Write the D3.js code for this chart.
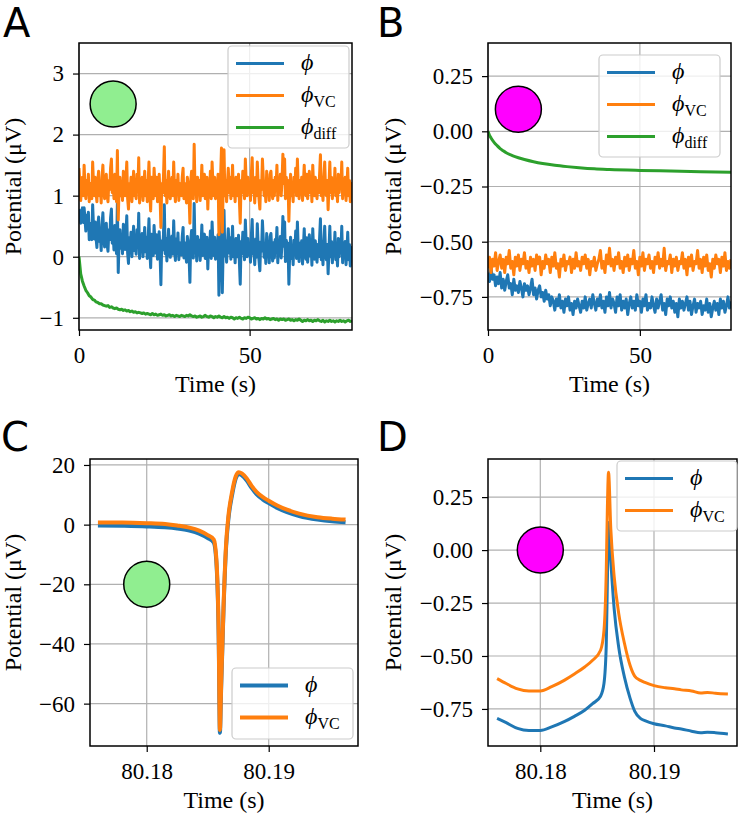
<!DOCTYPE html>
<html>
<head>
<meta charset="utf-8">
<script src="https://cdn.jsdelivr.net/npm/d3@7"></script>
<style>
    body { margin: 0; background: #fff; }
</style>
</head>
<body>
<div id="chart"></div>
<script>
// sample times of the long recordings, in seconds
var timeFine = d3.range(0, 80.001, 0.25);   // A: phi and phi_VC
var timeAB = d3.range(0, 80.001, 0.5);      // A: phi_diff, B: phi and phi_VC

// Panel A: phi, phi_VC, phi_diff (uV)
var phiA = [
    0.78,0.70,0.55,0.68,0.80,0.56,0.80,0.62,0.42,0.68,0.47,0.73,0.28,0.55,0.44,0.28,0.85,0.50,0.29,0.57,
    0.31,0.15,0.50,0.65,0.25,0.38,0.10,0.52,0.72,0.32,0.16,0.40,0.55,0.20,0.09,0.44,0.28,0.63,0.78,0.22,
    0.36,0.11,0.51,0.26,0.05,0.89,-0.26,0.29,0.44,0.14,0.33,0.05,0.53,0.23,0.12,0.37,0.67,0.06,-0.11,0.31,
    0.15,0.40,0.0,0.25,0.50,0.10,0.29,0.04,0.44,0.19,0.71,-0.03,0.29,0.13,0.38,0.0,0.23,0.48,0.08,0.32,
    -0.03,0.27,0.62,0.12,-0.18,0.37,0.17,0.02,0.51,0.26,0.06,0.36,-0.04,0.21,0.41,0.06,-0.46,0.26,0.11,0.36,
    0.85,0.05,0.30,-0.07,0.20,0.45,0.10,-0.01,0.24,0.34,0.04,0.59,0.14,-0.06,0.29,0.09,0.39,-0.05,0.23,0.13,
    0.03,0.33,0.48,-0.02,0.23,0.08,-0.09,0.33,0.18,0.03,-0.42,0.28,0.43,0.08,-0.02,0.87,0.13,0.23,-0.07,0.33,
    0.07,0.27,-0.06,0.17,0.52,0.02,0.22,0.37,-0.03,0.12,0.32,-0.20,0.22,0.07,0.42,-0.03,0.57,0.22,0.02,0.32,
    -0.04,0.21,0.11,0.36,-0.63,0.06,0.31,0.79,-0.59,0.16,0.76,0.01,0.26,-0.09,0.21,0.46,0.06,0.31,-0.04,0.16,
    0.50,0.0,0.20,-0.10,0.30,0.10,0.0,0.35,-0.08,-0.45,0.25,0.05,0.40,0.15,-0.05,0.60,0.20,0.0,0.30,0.05,
    0.19,-0.09,0.34,0.61,0.04,0.14,-0.13,0.29,-0.01,0.54,0.19,-0.06,-0.23,0.24,0.09,0.59,0.29,-0.01,0.14,-0.11,
    0.38,0.03,0.18,-0.10,0.33,0.38,0.08,-0.07,0.23,-0.02,0.28,0.13,0.48,-0.10,0.18,0.03,0.33,-0.02,0.23,0.66,
    0.17,0.57,-0.08,0.27,0.02,0.22,-0.45,0.07,0.32,-0.03,0.17,-0.13,0.27,0.07,0.42,-0.03,0.57,0.12,-0.08,0.22,
    0.01,0.26,-0.12,0.16,0.46,0.06,-0.04,0.31,-0.09,0.16,0.36,0.01,0.21,-0.14,0.46,0.11,-0.04,0.26,0.06,-0.09,
    0.20,0.0,0.30,0.62,-0.05,0.15,-0.13,0.25,0.50,0.05,-0.05,0.20,-0.28,0.10,0.50,0.0,0.25,-0.10,0.15,0.05,
    0.40,-0.05,0.15,-0.15,0.30,0.0,0.20,0.10,0.50,-0.10,0.15,0.0,0.25,-0.13,0.10,0.40,-0.05,0.20,-0.15,0.15,
    0.05
];
var phiVCA = [
    1.45,1.2,0.92,1.1,1.3,1.0,1.5,1.15,0.95,1.25,1.05,1.35,0.9,1.2,1.1,0.95,1.55,1.2,1.0,1.3,
    1.05,0.9,1.25,1.4,1.0,1.15,0.88,1.3,1.5,1.1,0.95,1.2,1.35,1.0,0.9,1.25,1.1,1.45,1.6,1.05,
    1.2,0.95,1.35,1.1,0.9,1.74,0.6,1.15,1.3,1.0,1.2,0.92,1.4,1.1,1.0,1.25,1.55,0.95,0.78,1.2,
    1.05,1.3,0.9,1.15,1.4,1.0,1.2,0.95,1.35,1.1,1.62,0.88,1.2,1.05,1.3,0.92,1.15,1.4,1.0,1.25,
    0.9,1.2,1.55,1.05,0.75,1.3,1.1,0.95,1.45,1.2,1.0,1.3,0.9,1.15,1.35,1.0,0.48,1.2,1.05,1.3,
    1.8,1.0,1.25,0.88,1.15,1.4,1.05,0.95,1.2,1.3,1.0,1.55,1.1,0.9,1.25,1.05,1.35,0.92,1.2,1.1,
    1.0,1.3,1.45,0.95,1.2,1.05,0.88,1.3,1.15,1.0,0.55,1.25,1.4,1.05,0.95,1.84,1.1,1.2,0.9,1.3,
    1.05,1.25,0.92,1.15,1.5,1.0,1.2,1.35,0.95,1.1,1.3,0.78,1.2,1.05,1.4,0.95,1.55,1.2,1.0,1.3,
    0.95,1.2,1.1,1.35,0.36,1.05,1.3,1.78,0.4,1.15,1.75,1.0,1.25,0.9,1.2,1.45,1.05,1.3,0.95,1.15,
    1.5,1.0,1.2,0.9,1.3,1.1,1.0,1.35,0.92,0.55,1.25,1.05,1.4,1.15,0.95,1.6,1.2,1.0,1.3,1.05,
    1.2,0.92,1.35,1.62,1.05,1.15,0.88,1.3,1.0,1.55,1.2,0.95,0.78,1.25,1.1,1.6,1.3,1.0,1.15,0.9,
    1.4,1.05,1.2,0.92,1.35,1.4,1.1,0.95,1.25,1.0,1.3,1.15,1.5,0.92,1.2,1.05,1.35,1.0,1.25,1.68,
    1.2,1.6,0.95,1.3,1.05,1.25,0.58,1.1,1.35,1.0,1.2,0.9,1.3,1.1,1.45,1.0,1.6,1.15,0.95,1.25,
    1.05,1.3,0.92,1.2,1.5,1.1,1.0,1.35,0.95,1.2,1.4,1.05,1.25,0.9,1.5,1.15,1.0,1.3,1.1,0.95,
    1.25,1.05,1.35,1.67,1.0,1.2,0.92,1.3,1.55,1.1,1.0,1.25,0.77,1.15,1.55,1.05,1.3,0.95,1.2,1.1,
    1.45,1.0,1.2,0.9,1.35,1.05,1.25,1.15,1.55,0.95,1.2,1.05,1.3,0.92,1.15,1.45,1.0,1.25,0.9,1.2,
    1.1
];
var phiDiffA = [
    0,-0.28,-0.40,-0.48,-0.55,-0.59,-0.64,-0.66,-0.70,-0.71,
    -0.74,-0.75,-0.77,-0.77,-0.79,-0.80,-0.81,-0.80,-0.83,-0.82,
    -0.84,-0.85,-0.84,-0.86,-0.87,-0.86,-0.88,-0.87,-0.89,-0.88,
    -0.90,-0.89,-0.91,-0.90,-0.92,-0.91,-0.92,-0.93,-0.92,-0.94,
    -0.93,-0.94,-0.95,-0.93,-0.95,-0.94,-0.96,-0.95,-0.94,-0.96,
    -0.95,-0.97,-0.96,-0.95,-0.97,-0.96,-0.98,-0.96,-0.97,-0.98,
    -0.96,-0.97,-0.98,-0.96,-0.97,-0.95,-0.97,-0.98,-0.97,-0.99,
    -0.98,-0.97,-0.99,-0.98,-0.96,-0.98,-0.99,-0.97,-0.98,-1.00,
    -0.98,-0.99,-0.97,-0.99,-1.00,-0.98,-1.00,-0.99,-1.01,-0.99,
    -1.00,-1.02,-1.00,-1.01,-0.99,-1.01,-1.02,-1.00,-1.01,-0.99,
    -1.00,-1.02,-1.01,-1.00,-1.02,-1.01,-1.03,-1.01,-1.02,-1.00,
    -1.02,-1.01,-1.03,-1.02,-1.01,-1.03,-1.02,-1.04,-1.02,-1.03,
    -1.02,-1.04,-1.03,-1.02,-1.04,-1.03,-1.05,-1.03,-1.04,-1.02,
    -1.04,-1.06,-1.04,-1.05,-1.03,-1.05,-1.04,-1.06,-1.04,-1.05,
    -1.03,-1.05,-1.06,-1.04,-1.07,-1.05,-1.06,-1.04,-1.06,-1.05,
    -1.07,-1.05,-1.06,-1.04,-1.06,-1.05,-1.07,-1.05,-1.04,-1.06,
    -1.05
];

// Panel B
var phiB = [
    -0.64,-0.68,-0.62,-0.67,-0.65,-0.70,-0.66,-0.69,-0.64,-0.71,
    -0.67,-0.72,-0.68,-0.65,-0.71,-0.69,-0.74,-0.67,-0.72,-0.70,
    -0.73,-0.68,-0.71,-0.75,-0.69,-0.72,-0.70,-0.74,-0.71,-0.67,
    -0.74,-0.71,-0.76,-0.72,-0.70,-0.75,-0.73,-0.77,-0.72,-0.76,
    -0.74,-0.79,-0.75,-0.77,-0.81,-0.76,-0.79,-0.74,-0.80,-0.77,
    -0.82,-0.76,-0.79,-0.75,-0.81,-0.78,-0.83,-0.77,-0.80,-0.76,
    -0.79,-0.82,-0.77,-0.80,-0.75,-0.81,-0.78,-0.76,-0.80,-0.74,
    -0.78,-0.81,-0.76,-0.79,-0.74,-0.80,-0.77,-0.82,-0.75,-0.79,
    -0.73,-0.80,-0.76,-0.78,-0.82,-0.75,-0.79,-0.74,-0.81,-0.77,
    -0.80,-0.76,-0.83,-0.78,-0.75,-0.80,-0.77,-0.81,-0.74,-0.79,
    -0.77,-0.82,-0.76,-0.79,-0.74,-0.81,-0.78,-0.80,-0.75,-0.79,
    -0.82,-0.76,-0.80,-0.77,-0.74,-0.81,-0.78,-0.83,-0.76,-0.79,
    -0.75,-0.80,-0.77,-0.82,-0.78,-0.84,-0.76,-0.80,-0.77,-0.81,
    -0.78,-0.75,-0.81,-0.77,-0.83,-0.79,-0.76,-0.82,-0.78,-0.80,
    -0.77,-0.83,-0.79,-0.81,-0.76,-0.82,-0.78,-0.84,-0.80,-0.77,
    -0.81,-0.78,-0.83,-0.76,-0.80,-0.77,-0.82,-0.79,-0.75,-0.80,
    -0.77
];
var phiVCB = [
    -0.62,-0.57,-0.64,-0.58,-0.61,-0.55,-0.63,-0.59,-0.56,-0.62,
    -0.58,-0.64,-0.57,-0.60,-0.54,-0.62,-0.59,-0.65,-0.57,-0.61,
    -0.56,-0.63,-0.58,-0.60,-0.55,-0.62,-0.59,-0.64,-0.57,-0.61,
    -0.58,-0.63,-0.56,-0.60,-0.57,-0.65,-0.59,-0.62,-0.56,-0.60,
    -0.58,-0.64,-0.57,-0.61,-0.55,-0.62,-0.60,-0.66,-0.58,-0.61,
    -0.56,-0.63,-0.59,-0.60,-0.57,-0.64,-0.58,-0.62,-0.55,-0.61,
    -0.59,-0.63,-0.57,-0.60,-0.56,-0.62,-0.58,-0.65,-0.59,-0.61,
    -0.57,-0.63,-0.60,-0.58,-0.54,-0.62,-0.59,-0.64,-0.56,-0.60,
    -0.53,-0.61,-0.58,-0.63,-0.57,-0.60,-0.55,-0.62,-0.59,-0.64,
    -0.57,-0.61,-0.56,-0.63,-0.58,-0.60,-0.54,-0.62,-0.59,-0.65,
    -0.57,-0.61,-0.55,-0.63,-0.58,-0.60,-0.56,-0.62,-0.59,-0.64,
    -0.57,-0.60,-0.55,-0.62,-0.58,-0.61,-0.53,-0.63,-0.59,-0.60,
    -0.56,-0.64,-0.58,-0.61,-0.57,-0.63,-0.59,-0.60,-0.55,-0.62,
    -0.58,-0.65,-0.57,-0.61,-0.56,-0.63,-0.59,-0.60,-0.54,-0.62,
    -0.58,-0.64,-0.57,-0.61,-0.56,-0.63,-0.60,-0.66,-0.58,-0.62,
    -0.56,-0.60,-0.58,-0.64,-0.57,-0.61,-0.55,-0.63,-0.59,-0.62,
    -0.58
];
var timeDiffB = [0,0.5,1,2,3,4,5,6,8,10,12,15,18,22,26,30,35,40,50,60,70,80];
var phiDiffB = [0,-0.018,-0.03,-0.05,-0.065,-0.078,-0.088,-0.097,-0.11,-0.12,-0.128,-0.138,-0.146,-0.154,-0.16,-0.165,-0.17,-0.173,-0.177,-0.18,-0.183,-0.186];

// Panel C: single spike, green electrode
var timeC = [80.1760,80.1780,80.1800,80.1815,80.1825,80.1835,80.1843,80.1850,80.1855,80.1857,80.1859,80.1860,80.1861,80.1863,80.1865,80.1867,80.1870,80.1873,80.18755,80.1878,80.1882,80.1886,80.1890,80.1895,80.1900,80.1907,80.1915,80.1925,80.1940,80.1952,80.1963];
var phiC = [-0.3,-0.4,-0.6,-0.9,-1.3,-2.0,-3.0,-4.5,-6.0,-12,-38,-69.8,-55,-28,-8,2,10,15.5,17.0,16.5,14.8,12.3,10.2,8.5,7.2,5.6,4.2,2.9,1.7,1.1,0.8];
var phiVCC = [0.7,0.7,0.5,0.2,-0.3,-1.0,-2.0,-3.5,-5.0,-11,-37,-68.8,-54,-27,-7,3,11,16.2,17.6,17.2,15.5,13.0,11.0,9.3,8.0,6.4,5.0,3.7,2.5,2.0,1.7];

// Panel D: single spike, magenta electrode
var timeD = [80.1762,80.1770,80.1780,80.1790,80.1800,80.1810,80.1821,80.1830,80.1839,80.1846,80.1853,80.1856,80.1858,80.1859,80.1860,80.1862,80.1865,80.1869,80.1874,80.1879,80.1883,80.1888,80.1892,80.1900,80.1910,80.1918,80.1924,80.1933,80.1941,80.1947,80.1954,80.1965];
var phiD = [-0.795,-0.815,-0.842,-0.852,-0.852,-0.835,-0.81,-0.785,-0.756,-0.725,-0.69,-0.63,-0.45,-0.15,0.13,-0.05,-0.28,-0.46,-0.60,-0.70,-0.76,-0.795,-0.805,-0.82,-0.83,-0.84,-0.845,-0.855,-0.862,-0.86,-0.862,-0.868];
var phiVCD = [-0.607,-0.63,-0.655,-0.665,-0.665,-0.645,-0.615,-0.585,-0.552,-0.52,-0.473,-0.38,-0.10,0.20,0.368,0.10,-0.127,-0.30,-0.44,-0.545,-0.595,-0.615,-0.625,-0.64,-0.65,-0.655,-0.66,-0.665,-0.675,-0.672,-0.676,-0.68];

// tick values
var ticksTimeLong = [0, 50];
var ticksTimeSpike = [80.18, 80.19];
var ticksA = [-1, 0, 1, 2, 3];
var ticksB = [-0.75, -0.5, -0.25, 0, 0.25];
var ticksC = [-60, -40, -20, 0, 20];
var ticksD = [-0.75, -0.5, -0.25, 0, 0.25];

var blue = '#1f77b4', orange = '#ff7f0e', green = '#2ca02c';
var serif = '"Liberation Serif", "DejaVu Serif", serif';

var svg = d3.select('#chart')
    .append('svg')
    .attr('width', 742)
    .attr('height', 817);

function styleAxis(sel) {
    sel.select('.domain').remove();
    sel.selectAll('line').attr('stroke', '#000').attr('stroke-width', 1.2);
    sel.selectAll('text')
        .attr('fill', '#000')
        .style('font-family', serif)
        .style('font-size', '23px');
}

function drawPanel(p) {
    var g = svg.append('g');
    var x = d3.scaleLinear().domain(p.xDomain).range([p.left, p.right]);
    var y = d3.scaleLinear().domain(p.yDomain).range([p.bottom, p.top]);

    //grid
    g.selectAll('.gx').data(p.xTicks).enter().append('line')
        .attr('x1', d => x(d)).attr('x2', d => x(d))
        .attr('y1', p.top).attr('y2', p.bottom)
        .attr('stroke', '#b0b0b0').attr('stroke-width', 1.2);
    g.selectAll('.gy').data(p.yTicks).enter().append('line')
        .attr('x1', p.left).attr('x2', p.right)
        .attr('y1', d => y(d)).attr('y2', d => y(d))
        .attr('stroke', '#b0b0b0').attr('stroke-width', 1.2);

    //clip the traces to the axes box
    svg.append('clipPath').attr('id', 'clip' + p.letter)
        .append('rect')
        .attr('x', p.left).attr('y', p.top)
        .attr('width', p.right - p.left).attr('height', p.bottom - p.top);

    var line = d3.line().x(d => x(d[0])).y(d => y(d[1]));
    var traces = g.append('g').attr('clip-path', 'url(#clip' + p.letter + ')');
    p.series.forEach(function(s) {
        traces.append('path')
            .datum(d3.zip(s.t, s.v))
            .attr('d', line.curve(s.smooth ? d3.curveMonotoneX : d3.curveLinear))
            .attr('fill', 'none')
            .attr('stroke', s.color)
            .attr('stroke-width', p.lineWidth)
            .attr('stroke-linejoin', 'round');
    });

    //electrode marker
    g.append('circle')
        .attr('cx', x(p.marker[0])).attr('cy', y(p.marker[1]))
        .attr('r', 23)
        .attr('fill', p.markerColor)
        .attr('stroke', '#000').attr('stroke-width', 1.5);

    //spines
    g.append('rect')
        .attr('x', p.left).attr('y', p.top)
        .attr('width', p.right - p.left).attr('height', p.bottom - p.top)
        .attr('fill', 'none').attr('stroke', '#000').attr('stroke-width', 1.5);

    //axes
    g.append('g')
        .attr('transform', 'translate(0,' + p.bottom + ')')
        .call(d3.axisBottom(x).tickValues(p.xTicks).tickFormat(p.xFormat).tickSize(6).tickPadding(11))
        .call(styleAxis);
    g.append('g')
        .attr('transform', 'translate(' + p.left + ',0)')
        .call(d3.axisLeft(y).tickValues(p.yTicks).tickFormat(p.yFormat).tickSize(6).tickPadding(9))
        .call(styleAxis);

    //axis labels
    g.append('text')
        .attr('x', (p.left + p.right) / 2).attr('y', p.bottom + 62)
        .attr('text-anchor', 'middle')
        .style('font-family', serif)
        .style('font-size', '24px')
        .text('Time (s)');
    g.append('text')
        .attr('transform', 'translate(' + p.ylabelX + ',' + (p.top + p.bottom) / 2 + ') rotate(-90)')
        .attr('text-anchor', 'middle')
        .style('font-family', serif)
        .style('font-size', '24px')
        .text('Potential (μV)');

    //panel letter
    svg.append('text')
        .attr('x', p.letterPos[0]).attr('y', p.letterPos[1])
        .style('font-family', '"DejaVu Sans", sans-serif')
        .style('font-size', '40px')
        .text(p.letter);

    //legend
    var lg = g.append('g');
    lg.append('rect')
        .attr('x', p.legend[0]).attr('y', p.legend[1])
        .attr('width', p.legend[2]).attr('height', p.legend[3])
        .attr('rx', 4)
        .attr('fill', 'white').attr('fill-opacity', 0.8)
        .attr('stroke', '#cccccc').attr('stroke-width', 1.2);
    p.series.forEach(function(s, i) {
        var ry = p.legend[1] + 17.5 + i * 32;
        lg.append('line')
            .attr('x1', p.legend[0] + 8).attr('x2', p.legend[0] + 56)
            .attr('y1', ry).attr('y2', ry)
            .attr('stroke', s.color).attr('stroke-width', p.lineWidth);
        var t = lg.append('text')
            .attr('x', p.legend[0] + 73).attr('y', ry + 6)
            .style('font-family', serif)
            .style('font-size', '24px');
        t.append('tspan').style('font-style', 'italic').text('ϕ');
        if (s.sub) {
            t.append('tspan').attr('dy', 5).style('font-size', '16px').text(s.sub);
        }
    });
}

var fmtInt = d3.format('d');
var fmt2 = d3.format('.2f');

drawPanel({
    letter: 'A', letterPos: [3, 37],
    left: 79, right: 352, top: 43, bottom: 330,
    xDomain: [0, 80], yDomain: [-1.2, 3.5],
    xTicks: ticksTimeLong, yTicks: ticksA, xFormat: fmtInt, yFormat: fmtInt,
    ylabelX: 21, lineWidth: 3,
    marker: [10, 2.5], markerColor: '#90ee90',
    legend: [228, 46, 121, 102],
    series: [
        {t: timeFine, v: phiA, color: blue, sub: ''},
        {t: timeFine, v: phiVCA, color: orange, sub: 'VC'},
        {t: timeAB, v: phiDiffA, color: green, sub: 'diff'}
    ]
});

drawPanel({
    letter: 'B', letterPos: [377, 37],
    left: 488, right: 731, top: 43, bottom: 330,
    xDomain: [0, 80], yDomain: [-0.9, 0.4],
    xTicks: ticksTimeLong, yTicks: ticksB, xFormat: fmtInt, yFormat: fmt2,
    ylabelX: 401, lineWidth: 3,
    marker: [10, 0.1], markerColor: '#ff00ff',
    legend: [599, 55, 121, 102],
    series: [
        {t: timeAB, v: phiB, color: blue, sub: ''},
        {t: timeAB, v: phiVCB, color: orange, sub: 'VC'},
        {t: timeDiffB, v: phiDiffB, color: green, sub: 'diff', smooth: true}
    ]
});

drawPanel({
    letter: 'C', letterPos: [1, 451],
    left: 90, right: 358, top: 459, bottom: 746,
    xDomain: [80.17535, 80.19732], yDomain: [-74.2, 22],
    xTicks: ticksTimeSpike, yTicks: ticksC, xFormat: fmt2, yFormat: fmtInt,
    ylabelX: 21, lineWidth: 4,
    marker: [80.18, -20], markerColor: '#90ee90',
    legend: [232, 668, 121, 71],
    series: [
        {t: timeC, v: phiC, color: blue, sub: '', smooth: true},
        {t: timeC, v: phiVCC, color: orange, sub: 'VC', smooth: true}
    ]
});

drawPanel({
    letter: 'D', letterPos: [377, 451],
    left: 488, right: 737, top: 459, bottom: 746,
    xDomain: [80.1754, 80.1973], yDomain: [-0.925, 0.43],
    xTicks: ticksTimeSpike, yTicks: ticksD, xFormat: fmt2, yFormat: fmt2,
    ylabelX: 401, lineWidth: 3,
    marker: [80.18, 0], markerColor: '#ff00ff',
    legend: [617, 461, 120, 70],
    series: [
        {t: timeD, v: phiD, color: blue, sub: '', smooth: true},
        {t: timeD, v: phiVCD, color: orange, sub: 'VC', smooth: true}
    ]
});
</script>
</body>
</html>
